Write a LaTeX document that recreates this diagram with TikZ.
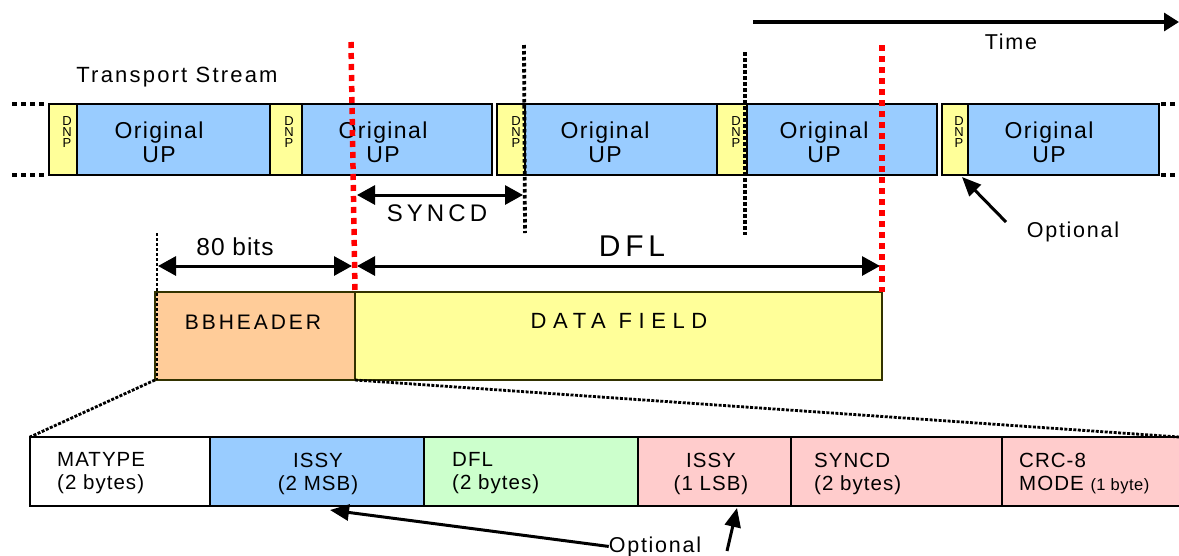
\documentclass[tikz,border=0pt]{standalone}
\usepackage{fontspec}
\setmainfont{Liberation Sans}
\usetikzlibrary{arrows.meta}
\definecolor{upblue}{HTML}{99CCFF}
\definecolor{dnpyel}{HTML}{FFFF99}
\definecolor{bborange}{HTML}{FFCC99}
\definecolor{dflgreen}{HTML}{CCFFCC}
\definecolor{optpink}{HTML}{FFCCCC}
\definecolor{bbborder}{HTML}{333300}
\newcommand\tf[3]{\fontsize{#1}{#2}\selectfont\addfontfeature{LetterSpace=#3}}
\tikzset{
  cell/.style={draw=black, inner sep=0pt, outer sep=0pt, anchor=north west},
  tsbox/.style={cell, line width=2.8pt, minimum height=71pt},
  upbox/.style={tsbox, fill=upblue},
  dnpbox/.style={tsbox, fill=dnpyel},
  dnptext/.style={inner sep=0pt, align=center, font={\tf{13}{11}{0}}},
  uptext/.style={inner sep=0pt, align=center, font={\tf{23}{24}{6}}},
  lbl/.style={inner sep=0pt, font={\tf{21.5}{24}{8}}},
  bbbox/.style={cell, draw=bbborder, line width=1.8pt, minimum height=88pt},
  hdrcell/.style={cell, line width=2.4pt, minimum height=69pt},
  hdrtext/.style={inner sep=0pt, font={\tf{20.5}{23}{5}}},
  reddot/.style={draw=red, line width=5.5pt, dash pattern=on 6pt off 5pt},
  blackdot/.style={draw=black, line width=3.8pt, dash pattern=on 3.5pt off 2.5pt},
  thindot/.style={draw=black, line width=1.8pt, dash pattern=on 3pt off 2pt},
  enddot/.style={draw=black, line width=4.5pt, dash pattern=on 5pt off 4pt},
  zoomline/.style={draw=black, line width=2.8pt, dash pattern=on 3pt off 1.5pt},
  dimarrow/.style={draw=black, line width=3pt, {Triangle[length=18pt,width=19pt]}-{Triangle[length=18pt,width=19pt]}},
  optarrow/.style={draw=black, line width=3pt, -{Triangle[length=19pt,width=16pt]}},
  timearrow/.style={draw=black, line width=3.2pt, -{Triangle[length=15pt,width=18pt]}}
}
\begin{document}
\begin{tikzpicture}[x=1pt,y=-1pt]
\useasboundingbox (0,0) rectangle (1179,555);
% transport stream boxes
\node[dnpbox, minimum width=28pt] (dnp1) at (49,104) {};
\node[upbox, minimum width=193pt] (up1) at (77,104) {};
\node[dnpbox, minimum width=32pt] (dnp2) at (270,104) {};
\node[upbox, minimum width=190pt] (up2) at (302,104) {};
\node[dnpbox, minimum width=28pt] (dnp3) at (497,104) {};
\node[upbox, minimum width=192pt] (up3) at (525,104) {};
\node[dnpbox, minimum width=30pt] (dnp4) at (717,104) {};
\node[upbox, minimum width=190pt] (up4) at (747,104) {};
\node[dnpbox, minimum width=26pt] (dnp5) at (942,104) {};
\node[upbox, minimum width=191pt] (up5) at (968,104) {};
% DNP labels
\node[dnptext] (dl1) at (67,132) {D\\N\\P};
\node[dnptext] (dl2) at (289,132) {D\\N\\P};
\node[dnptext] (dl3) at (516,132) {D\\N\\P};
\node[dnptext] (dl4) at (736,132) {D\\N\\P};
\node[dnptext] (dl5) at (959,132) {D\\N\\P};
% UP labels
\node[uptext] (ut1) at (159,142) {Original\\UP};
\node[uptext] (ut2) at (383,142) {Original\\UP};
\node[uptext] (ut3) at (605,142) {Original\\UP};
\node[uptext] (ut4) at (824,142) {Original\\UP};
\node[uptext] (ut5) at (1049,142) {Original\\UP};
% dotted continuation ends
\coordinate (lt1) at (12,104); \coordinate (lt2) at (47,104);
\coordinate (lb1) at (12,175); \coordinate (lb2) at (47,175);
\coordinate (rt1) at (1161,104); \coordinate (rt2) at (1179,104);
\coordinate (rb1) at (1161,175); \coordinate (rb2) at (1179,175);
\draw[enddot] (lt1) -- (lt2);
\draw[enddot] (lb1) -- (lb2);
\draw[enddot] (rt1) -- (rt2);
\draw[enddot] (rb1) -- (rb2);
% texts
\node[lbl, font={\tf{22}{24}{10}}] (ts) at (177,77) {Transport Stream};
\coordinate (t0) at (753,22); \coordinate (t1) at (1179,22);
\draw[timearrow] (t0) -- (t1);
\node[lbl] (time) at (1011,42) {Time};
% SYNCD
\coordinate (s0) at (357,195); \coordinate (s1) at (523,195);
\draw[dimarrow] (s0) -- (s1);
\node[inner sep=0pt, font={\tf{24}{26}{17}}] (syncd) at (437,213) {SYNCD};
% BB frame
\node[bbbox, fill=bborange, minimum width=200pt] (bbh) at (155,292) {};
\node[bbbox, fill=dnpyel, minimum width=527pt] (df) at (355,292) {};
\node[inner sep=0pt, font={\tf{21}{24}{14}}] (bbhtext) at (253,322) {BBHEADER};
\node[inner sep=0pt, font={\tf{22}{24}{30}}] (dftext) at (619,321) {DATA FIELD};
% dimension arrows
\coordinate (a0) at (158,266); \coordinate (a1) at (352,266);
\coordinate (b0) at (357,266); \coordinate (b1) at (880,266);
\draw[dimarrow] (a0) -- (a1);
\draw[dimarrow] (b0) -- (b1);
\node[inner sep=0pt, font={\tf{24.5}{26}{4}}] (bits) at (235,247) {80 bits};
\node[inner sep=0pt, font={\tf{30}{32}{16}}] (dfl) at (632,246) {DFL};
% header fields
\node[hdrcell, fill=white, minimum width=180pt] (matype) at (30,437) {};
\node[hdrcell, fill=upblue, minimum width=214pt] (issy1) at (210,437) {};
\node[hdrcell, fill=dflgreen, minimum width=214pt] (dflc) at (424,437) {};
\node[hdrcell, fill=optpink, minimum width=153pt] (issy2) at (638,437) {};
\node[hdrcell, fill=optpink, minimum width=211pt] (syncdc) at (791,437) {};
\node[hdrcell, fill=optpink, minimum width=190pt] (crc) at (1002,437) {};
\node[hdrtext, align=left, anchor=west] (t-matype) at (57,473.5) {MATYPE\\(2 bytes)};
\node[hdrtext, align=center] (t-issy1) at (318,473.5) {ISSY\\(2 MSB)};
\node[hdrtext, align=left, anchor=west] (t-dfl) at (452,473.5) {DFL\\(2 bytes)};
\node[hdrtext, align=center] (t-issy2) at (711,473.5) {ISSY\\(1 LSB)};
\node[hdrtext, align=left, anchor=west] (t-syncd) at (814,473.5) {SYNCD\\(2 bytes)};
\node[hdrtext, align=left, anchor=west] (t-crc) at (1019,473.5) {CRC-8\\MODE {\tf{16.5}{23}{3}(1 byte)}};
% zoom lines
\coordinate (zr) at (1179,437);
\draw[zoomline] (bbh.south west) -- (matype.north west);
\draw[zoomline] (df.south west) -- (zr);
% vertical markers
\coordinate (k0) at (157,233); \coordinate (k1) at (157,380);
\draw[thindot] (k0) -- (k1);
\coordinate (m0) at (524,45); \coordinate (m1) at (525,233);
\coordinate (n0) at (745,52); \coordinate (n1) at (745,235);
\draw[blackdot] (m0) -- (m1);
\draw[blackdot] (n0) -- (n1);
\coordinate (r0) at (351,42); \coordinate (r1) at (355,291);
\coordinate (q0) at (882,45); \coordinate (q1) at (882,292);
\draw[reddot] (r0) -- (r1);
\draw[reddot] (q0) -- (q1);
% optional labels
\node[lbl] (optA) at (1073,232) {Optional};
\coordinate (tailC) at (1006,222); \coordinate (tipC) at (962,177);
\draw[optarrow] (tailC) -- (tipC);
\node[lbl, anchor=base] (optB) at (655,552) {Optional};
\coordinate (tipA) at (330,510);
\draw[optarrow] (optB.west) -- (tipA);
\coordinate (tailB) at (727,551); \coordinate (tipB) at (737,508);
\draw[optarrow] (tailB) -- (tipB);
\end{tikzpicture}
\end{document}
